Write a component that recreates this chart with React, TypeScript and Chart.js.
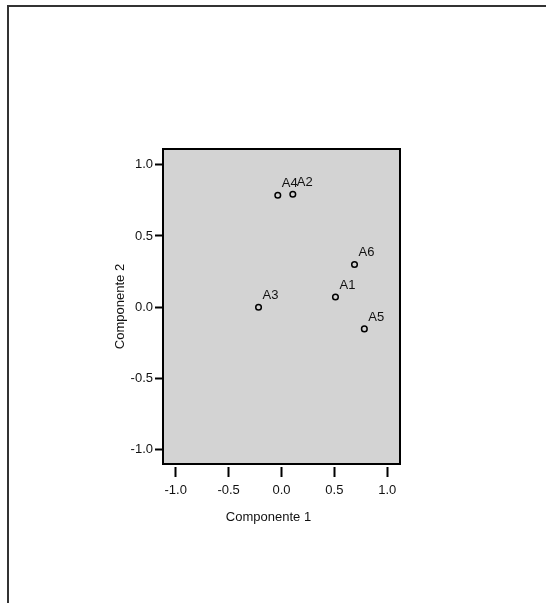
import React, { useEffect, useRef } from "react";
import { Chart, registerables } from "chart.js";

Chart.register(...registerables);

// ---- data ----
const pointLabels = ["A1", "A2", "A3", "A4", "A5", "A6"];
const comp1 = [0.51, 0.107, -0.217, -0.035, 0.783, 0.69];
const comp2 = [0.072, 0.793, 0.0, 0.786, -0.152, 0.3];
const xTickValues = [-1.0, -0.5, 0.0, 0.5, 1.0];
const yTickValues = [-1.0, -0.5, 0.0, 0.5, 1.0];
const xTitle = "Componente 1";
const yTitle = "Componente 2";

const FONT = "'Liberation Sans', Arial, Helvetica, sans-serif";
const TEXT = "#111";

const boxPlugin = {
  id: "plotBox",
  beforeDraw(chart: any) {
    const { ctx, chartArea: a } = chart;
    ctx.save();
    ctx.fillStyle = "#d3d3d3";
    ctx.fillRect(a.left, a.top, a.right - a.left, a.bottom - a.top);
    ctx.restore();
  },
  afterDatasetsDraw(chart: any) {
    const { ctx, chartArea: a } = chart;
    ctx.save();
    ctx.strokeStyle = "#000";
    ctx.lineWidth = 2;
    ctx.strokeRect(a.left, a.top, a.right - a.left, a.bottom - a.top);

    // point labels
    const meta = chart.getDatasetMeta(0);
    ctx.font = `13px ${FONT}`;
    ctx.fillStyle = TEXT;
    ctx.textAlign = "left";
    ctx.textBaseline = "alphabetic";
    meta.data.forEach((el: any, i: number) => {
      ctx.fillText(pointLabels[i], el.x + 4, el.y - 8);
    });

    // x axis title
    const xs = chart.scales.x;
    ctx.textAlign = "center";
    ctx.textBaseline = "middle";
    ctx.fillText(xTitle, (xs.left + xs.right) / 2 - 13, xs.bottom - 10);
    ctx.restore();
  },
};

export default function App() {
  const ref = useRef<HTMLCanvasElement | null>(null);

  useEffect(() => {
    if (!ref.current) return;
    const chart = new Chart(ref.current, {
      type: "scatter",
      data: {
        datasets: [
          {
            label: "Componentes",
            data: comp1.map((x, i) => ({ x, y: comp2[i] })),
            pointStyle: "circle",
            pointRadius: 2.8,
            pointBorderWidth: 1.5,
            borderColor: "#000",
            backgroundColor: "rgba(0,0,0,0)",
          },
        ],
      },
      options: {
        responsive: false,
        animation: false,
        devicePixelRatio: 1,
        layout: { padding: { left: 100, top: 149, right: 146, bottom: 76 } },
        plugins: {
          legend: { display: false },
          tooltip: { enabled: false },
          title: { display: false },
        },
        scales: {
          x: {
            type: "linear",
            position: "bottom",
            min: -1.12,
            max: 1.12,
            afterBuildTicks: (s: any) => {
              s.ticks = xTickValues.map((v) => ({ value: v }));
            },
            afterFit: (s: any) => {
              s.height = 63;
            },
            ticks: {
              callback: (v: any) => Number(v).toFixed(1),
              font: { family: FONT, size: 13 },
              color: TEXT,
              padding: 6,
              maxRotation: 0,
              autoSkip: false,
            },
            grid: {
              display: true,
              drawOnChartArea: false,
              drawTicks: true,
              tickLength: 13,
              tickColor: "#000",
              tickWidth: 2,
              tickBorderDash: [0, 3, 10, 30],
            },
            border: { display: false },
            title: { display: false },
          },
          y: {
            type: "linear",
            position: "left",
            min: -1.1,
            max: 1.11,
            afterBuildTicks: (s: any) => {
              s.ticks = yTickValues.map((v) => ({ value: v }));
            },
            afterFit: (s: any) => {
              s.width = 63;
            },
            ticks: {
              callback: (v: any) => Number(v).toFixed(1),
              font: { family: FONT, size: 13 },
              color: TEXT,
              padding: 2,
              autoSkip: false,
            },
            grid: {
              display: true,
              drawOnChartArea: false,
              drawTicks: true,
              tickLength: 8,
              tickColor: "#000",
              tickWidth: 2,
            },
            border: { display: false },
            title: {
              display: true,
              text: yTitle,
              font: { family: FONT, size: 13 },
              color: TEXT,
              padding: { top: 13, bottom: 0 },
            },
          },
        },
      },
      plugins: [boxPlugin],
    } as any);
    return () => chart.destroy();
  }, []);

  return (
    <div style={{ position: "absolute", left: 0, top: 0, width: 546, height: 603, overflow: "hidden", background: "#fff" }}>
      <div
        style={{
          position: "absolute",
          left: 7,
          top: 5,
          width: 539,
          height: 598,
          borderTop: "2px solid #333",
          borderLeft: "2px solid #333",
          boxSizing: "border-box",
        }}
      />
      <canvas ref={ref} width={546} height={603} style={{ position: "absolute", left: 0, top: 0, width: 546, height: 603 }} />
    </div>
  );
}
